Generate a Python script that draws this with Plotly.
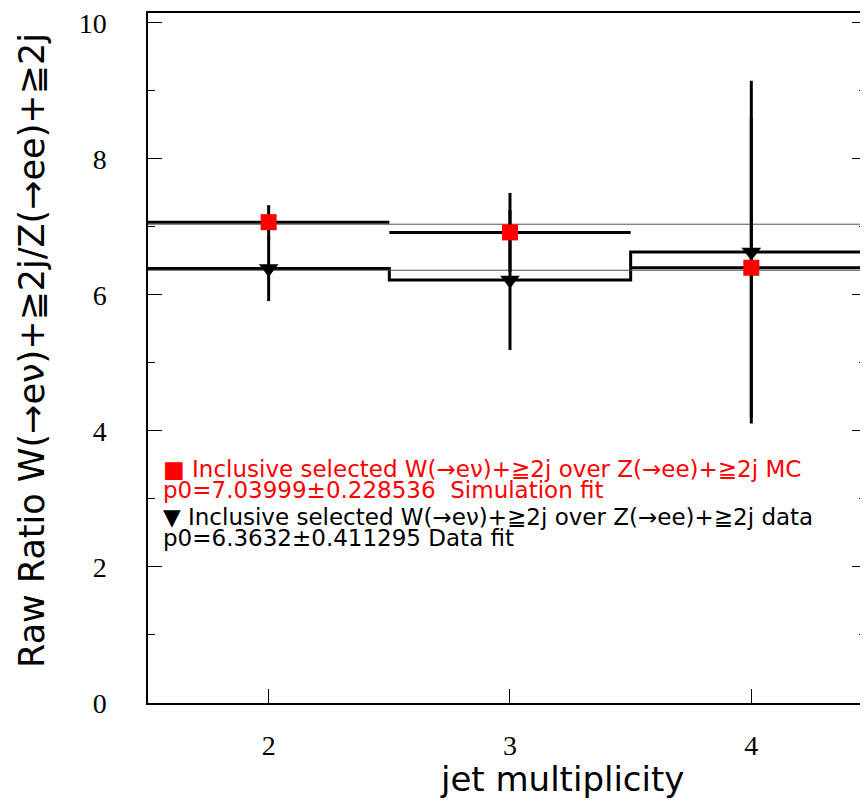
import plotly.graph_objects as go

# ---- data ----
jet_mult = [2, 3, 4]
mc_ratio = [7.07, 6.92, 6.40]
mc_err = [0.25, 0.58, 2.2]
data_ratio = [6.39, 6.22, 6.63]
data_err = [0.48, 1.03, 2.52]
mc_fit_p0 = 7.03999
data_fit_p0 = 6.3632
y_ticks = [0, 2, 4, 6, 8, 10]

half = 0.5
x_lo = jet_mult[0] - half
x_hi = jet_mult[-1] + half

fig = go.Figure()

# MC histogram: separate horizontal bars per bin
mx, my = [], []
for xc, v in zip(jet_mult, mc_ratio):
    mx += [xc - half, xc + half, None]
    my += [v, v, None]
fig.add_trace(go.Scatter(x=mx, y=my, mode="lines",
                         line=dict(color="black", width=3), hoverinfo="skip"))

# data histogram: connected steps
dx = [xc - half for xc in jet_mult] + [x_hi]
dy = data_ratio + [data_ratio[-1]]
fig.add_trace(go.Scatter(x=dx, y=dy, mode="lines", line_shape="hv",
                         line=dict(color="black", width=3), hoverinfo="skip"))

# fit lines
for p0 in [mc_fit_p0, data_fit_p0]:
    fig.add_trace(go.Scatter(x=[x_lo, x_hi], y=[p0, p0], mode="lines",
                             line=dict(color="#555555", width=1), hoverinfo="skip"))

# data points
fig.add_trace(go.Scatter(
    x=jet_mult, y=data_ratio, mode="markers",
    marker=dict(symbol="triangle-down", size=17, color="black"),
    error_y=dict(type="data", array=data_err, color="black", thickness=3, width=0)))

# MC points
fig.add_trace(go.Scatter(
    x=jet_mult, y=mc_ratio, mode="markers",
    marker=dict(symbol="square", size=16, color="#ff0000"),
    error_y=dict(type="data", array=mc_err, color="black", thickness=3, width=0)))

PW = 720   # plot width in px
PH = 695   # plot height in px

fig.update_layout(
    width=860, height=791,
    margin=dict(l=140, r=0, t=0, b=96),
    paper_bgcolor="white", plot_bgcolor="white",
    showlegend=False,
    font=dict(family="DejaVu Sans", color="black"),
)

fig.update_xaxes(
    range=[x_lo, x_lo + PW / 242.0],
    tickvals=jet_mult, ticktext=[str(v) for v in jet_mult],
    ticks="inside", ticklen=14, tickwidth=1, tickcolor="black",
    showline=True, linecolor="black", linewidth=1.5, mirror=True,
    showgrid=False, zeroline=False,
    tickfont=dict(family="Liberation Serif", size=28, color="black"),
    ticklabelstandoff=17,
)
fig.update_yaxes(
    range=[0, PH / 68.5],
    tickvals=y_ticks, ticktext=[str(v) for v in y_ticks],
    ticks="inside", ticklen=14, tickwidth=1, tickcolor="black",
    minor=dict(dtick=1, tick0=0, ticks="inside", ticklen=7, tickcolor="black", tickwidth=1, showgrid=False),
    showline=True, linecolor="black", linewidth=1.5, mirror="ticks",
    showgrid=False, zeroline=False,
    tickfont=dict(family="Liberation Serif", size=28, color="black"),
    ticklabelstandoff=34,
    ticklabeloverflow="allow",
)

def px(xp):
    return (xp - 148) / PW

def py(yp):
    return (703 - yp) / PH

annos = [
    dict(text="jet multiplicity", x=px(563), y=py(780), size=34, color="black", angle=0, xanchor="center"),
    dict(text="Raw Ratio W(\u2192e\u03bd)+\u22672j/Z(\u2192ee)+\u22672j", x=px(31), y=py(348), size=35,
         color="black", angle=-90, xanchor="center"),
    dict(text="\u25a0 Inclusive selected W(\u2192e\u03bd)+\u22672j over Z(\u2192ee)+\u22672j MC",
         x=px(161), y=py(467), size=23, color="#ff0000", angle=0, xanchor="left"),
    dict(text="p0=7.03999\u00b10.228536  Simulation fit",
         x=px(161), y=py(488), size=23, color="#ff0000", angle=0, xanchor="left"),
    dict(text="\u25bc Inclusive selected W(\u2192e\u03bd)+\u22672j over Z(\u2192ee)+\u22672j data",
         x=px(161), y=py(516), size=23, color="black", angle=0, xanchor="left"),
    dict(text="p0=6.3632\u00b10.411295 Data fit",
         x=px(161), y=py(537), size=23, color="black", angle=0, xanchor="left"),
]
for a in annos:
    fig.add_annotation(text=a["text"], x=a["x"], y=a["y"], xref="paper", yref="paper",
                       showarrow=False, textangle=a["angle"], xanchor=a["xanchor"], yanchor="middle",
                       font=dict(family="DejaVu Sans", size=a["size"], color=a["color"]))

fig.write_html("out.html")
